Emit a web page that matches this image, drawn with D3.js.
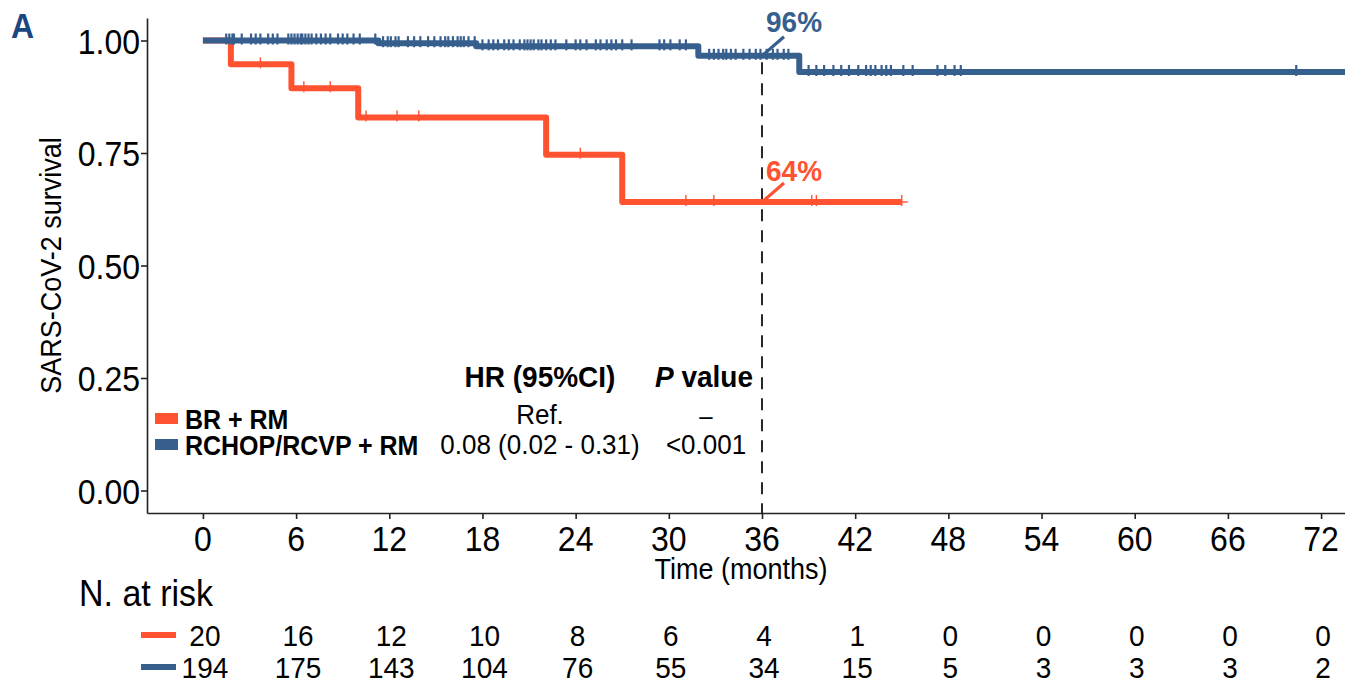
<!DOCTYPE html>
<html>
<head>
<meta charset="utf-8">
<script src="https://cdn.jsdelivr.net/npm/d3@7"></script>
<style>
  html, body { margin: 0; padding: 0; background: #fff; }
  text { font-family: "Liberation Sans", Arial, Helvetica, sans-serif; fill: #000; }
</style>
</head>
<body>
<div id="plot"></div>
<script>
// ---- data ----
var timeTicks = [0, 6, 12, 18, 24, 30, 36, 42, 48, 54, 60, 66, 72];
var yTicks = [0, 0.25, 0.5, 0.75, 1];

// BR + RM
var brTimes = [0, 1.8, 5.7, 10.0, 22.1, 27.0];
var brSurv  = [1, 0.947, 0.894, 0.829, 0.746, 0.641];
var brEnd = 45.0;
var brCensor = [3.7, 6.5, 8.2, 10.5, 12.5, 13.9, 24.3, 31.1, 32.9, 39.2, 39.5, 45.0];

// RCHOP/RCVP + RM
var rcTimes = [0, 11.3, 17.6, 31.9, 38.4];
var rcSurv  = [1, 0.994, 0.987, 0.966, 0.930];
var rcEnd = 74.5;
var rcCensor = [1.5, 1.7, 1.9, 2.0, 2.5, 3.1, 3.4, 3.7, 4.2, 4.5, 4.8,
  5.5, 5.7, 5.9, 6.1, 6.3, 6.4, 6.6, 6.8, 7.0, 7.3, 7.6, 7.9, 8.2, 8.7, 9.0, 9.3, 9.7, 10.1, 11.1,
  11.6, 11.9, 12.1, 12.4, 12.6, 13.2, 13.6, 14.0, 14.5, 14.9, 15.3, 15.6, 15.8, 16.1, 16.4, 16.6, 16.8, 17.1, 17.5,
  18.0, 18.4, 18.7, 19.0, 19.4, 19.7, 20.0, 20.4, 20.7, 20.9, 21.1, 21.3, 21.6, 21.8, 22.1, 22.4, 22.7, 23.4,
  24.0, 24.3, 24.7, 25.3, 25.6, 26.0, 26.3, 26.6, 27.0, 27.6, 29.4, 29.7, 30.1, 30.7, 31.1,
  32.6, 32.9, 33.2, 33.5, 33.7, 34.0, 34.3, 34.8, 35.2, 35.6, 35.9, 36.3, 36.7, 37.0, 37.4, 37.7,
  39.0, 39.5, 40.0, 40.6, 41.1, 41.6, 42.2, 42.7, 43.0, 43.3, 43.7, 44.0, 44.3, 45.1, 45.7, 47.3, 47.8, 48.4, 48.8, 70.4];

var riskBR = [20, 16, 12, 10, 8, 6, 4, 1, 0, 0, 0, 0, 0];
var riskRC = [194, 175, 143, 104, 76, 55, 34, 15, 5, 3, 3, 3, 2];

var groupNames = ["BR + RM", "RCHOP/RCVP + RM"];
var hrText = ["Ref.", "0.08 (0.02 - 0.31)"];
var pText = ["\u2013", "<0.001"];
var markTime = 36;
var markLabels = ["64%", "96%"];

var red = "#ff5230", blue = "#375f8e";

// ---- layout ----
var W = 1345, H = 684;
var sy = 1.08; // glyphs in the figure look a bit taller than wide

var svg = d3.select("#plot").append("svg")
    .attr("width", W).attr("height", H);

var x = d3.scaleLinear().domain([-3.6, 75.6]).range([147, 1377]);
var y = d3.scaleLinear().domain([-0.05, 1.05]).range([513, 18]);

function txt(g, px, py, s, size, anchor, weight) {
  return g.append("text")
    .attr("transform", "translate(" + px + "," + py + ") scale(1," + sy + ")")
    .attr("text-anchor", anchor || "start")
    .style("font-size", size + "px")
    .style("font-weight", weight || "normal")
    .text(s);
}

// axes
svg.append("g")
    .attr("transform", "translate(0,513)")
    .call(d3.axisBottom(x).tickValues(timeTicks).tickSize(6).tickSizeOuter(0).tickFormat(""));
svg.append("g")
    .attr("transform", "translate(147,0)")
    .call(d3.axisLeft(y).tickValues(yTicks).tickSize(6).tickSizeOuter(0).tickFormat(""));
svg.selectAll(".domain, .tick line").attr("stroke", "#222").attr("stroke-width", 1.6);

timeTicks.forEach(function(t) { txt(svg, x(t), 551, t, 32, "middle"); });
yTicks.forEach(function(v) { txt(svg, 140, y(v) + 13, v.toFixed(2), 32, "end"); });

txt(svg, 741, 579, "Time (months)", 27, "middle");
svg.append("text")
    .attr("transform", "translate(61," + y(0.5) + ") rotate(-90) scale(1," + sy + ")")
    .attr("text-anchor", "middle")
    .style("font-size", "27px")
    .text("SARS-CoV-2  survival");

svg.append("text")
    .attr("transform", "translate(11,38) scale(1," + sy + ")")
    .style("font-size", "32px").style("font-weight", "bold")
    .style("fill", "#1b4682")
    .text("A");

// dashed 36-month line
svg.append("line")
    .attr("x1", x(markTime)).attr("x2", x(markTime))
    .attr("y1", y(0.965) + 6).attr("y2", 513)
    .attr("stroke", "#111").attr("stroke-width", 1.8)
    .attr("stroke-dasharray", "12,9");

// curves
function stepAt(times, surv, t) {
  var i = d3.bisectRight(times, t) - 1;
  return surv[Math.max(0, i)];
}
var line = d3.line().curve(d3.curveStepAfter)
    .x(function(d) { return x(d[0]); })
    .y(function(d) { return y(d[1]); });

function drawCurve(times, surv, end, censor, color, markW) {
  var pts = times.map(function(t, i) { return [t, surv[i]]; });
  pts.push([end, surv[surv.length - 1]]);
  svg.append("path").datum(pts)
    .attr("d", line)
    .attr("fill", "none")
    .attr("stroke", color)
    .attr("stroke-width", 6)
    .attr("stroke-linejoin", "round");
  svg.append("g").selectAll("line")
    .data(censor)
    .enter().append("line")
    .attr("x1", function(d) { return x(d); })
    .attr("x2", function(d) { return x(d); })
    .attr("y1", function(d) { return y(stepAt(times, surv, d)) - 7; })
    .attr("y2", function(d) { return y(stepAt(times, surv, d)) + 4; })
    .attr("stroke", color)
    .attr("stroke-width", markW);
}
drawCurve(brTimes, brSurv, brEnd, brCensor, red, 1.4);
drawCurve(rcTimes, rcSurv, rcEnd, rcCensor, blue, 2.2);
// small cross at the end of the red curve
svg.append("line")
  .attr("x1", x(brEnd) - 5).attr("x2", x(brEnd) + 6)
  .attr("y1", y(brSurv[brSurv.length - 1])).attr("y2", y(brSurv[brSurv.length - 1]))
  .attr("stroke", red).attr("stroke-width", 1.4);

// 36-month labels
var markVals = [stepAt(brTimes, brSurv, markTime), stepAt(rcTimes, rcSurv, markTime)];
var labelDy = [-21, -24];
[red, blue].forEach(function(c, i) {
  var x0 = x(markTime), y0 = y(markVals[i]);
  svg.append("line")
    .attr("x1", x0).attr("y1", y0)
    .attr("x2", x0 + 22).attr("y2", y0 - 19)
    .attr("stroke", c).attr("stroke-width", 3.2);
  txt(svg, x0 + 4, y0 + labelDy[i], markLabels[i], 28, "start", "bold").style("fill", c);
});

// legend + HR table
var colHR = 540, colP = 704;
txt(svg, colHR, 387, "HR (95%CI)", 28, "middle", "bold");
var pHead = txt(svg, colP, 387, "", 28, "middle", "bold");
pHead.append("tspan").style("font-style", "italic").text("P");
pHead.append("tspan").text(" value");

var rowY = [429, 455];
[red, blue].forEach(function(c, i) {
  svg.append("rect")
    .attr("x", 155).attr("y", rowY[i] - 16)
    .attr("width", 23).attr("height", 11)
    .attr("fill", c);
  txt(svg, 185, rowY[i], groupNames[i], 25, "start", "bold");
});
txt(svg, colHR, 424, hrText[0], 26, "middle");
txt(svg, colHR, 454, hrText[1], 26, "middle");
txt(svg, colP + 2, 425, pText[0], 24, "middle");
txt(svg, colP + 2, 454, pText[1], 26, "middle");

// risk table
txt(svg, 79, 606, "N. at risk", 34, "start");
var riskY = [646, 678];
[riskBR, riskRC].forEach(function(row, r) {
  svg.append("line")
    .attr("x1", 141).attr("x2", 176)
    .attr("y1", riskY[r] - 11).attr("y2", riskY[r] - 11)
    .attr("stroke", r === 0 ? red : blue)
    .attr("stroke-width", 6);
  row.forEach(function(n, i) {
    txt(svg, x(timeTicks[i]) + 2, riskY[r], n, 28, "middle");
  });
});
</script>
</body>
</html>
